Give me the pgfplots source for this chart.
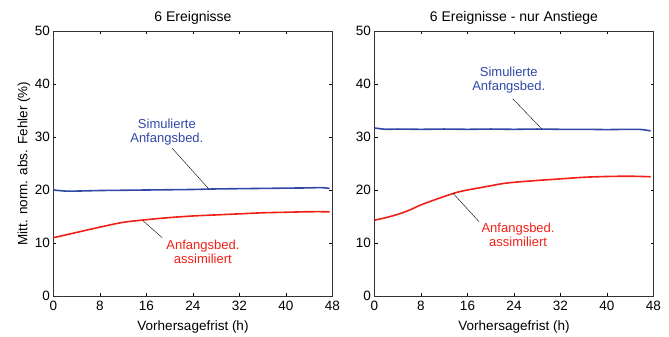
\documentclass[border=0pt]{standalone}
\usepackage{pgfplots}
\pgfplotsset{compat=1.18}
\usepackage{fontspec}
\setmainfont{Liberation Sans}
\definecolor{cblue}{RGB}{48,72,168}
\definecolor{cred}{RGB}{240,32,24}
\tikzset{ann/.style={font=\fontsize{13}{14}\selectfont, align=center, inner sep=0pt}}
\pgfplotsset{
  myax/.style={
    scale only axis, width=279pt, height=265pt,
    xmin=0, xmax=48, ymin=0, ymax=50,
    xtick={0,8,...,48}, ytick={0,10,...,50},
    tick align=inside, major tick length=3pt,
    tick style={black, line width=0.6pt},
    axis line style={line width=0.7pt, black!80},
    /pgf/number format/assume math mode=true,
    tick label style={font=\fontsize{13.5}{15}\selectfont},
    xticklabel style={yshift=-2pt},
    label style={font=\fontsize{13.5}{15}\selectfont},
    title style={font=\fontsize{14}{15}\selectfont, yshift=-3pt},
    xlabel={Vorhersagefrist (h)},
    xlabel style={yshift=-3pt},
  },
}
\begin{document}
\begin{tikzpicture}
\path[use as bounding box] (-53.5pt,-41pt) rectangle (615.5pt,296pt);
\begin{axis}[myax, at={(0pt,0pt)}, anchor=origin,
  title={6 Ereignisse},
  ylabel={Mitt. norm. abs. Fehler (\%)}, ylabel style={yshift=-2pt}]
\addplot[cblue, line width=1.6pt, smooth] coordinates {
(0,20.0) (2,19.8) (4,19.8) (8,19.9) (12,19.95) (16,20.0) (20,20.05) (24,20.1) (28,20.2) (32,20.25) (36,20.3) (40,20.35) (44,20.4) (46,20.45) (47.5,20.3)};
\addplot[cred, line width=1.6pt, smooth] coordinates {
(0,11.0) (4,12.0) (8,13.0) (12,13.9) (16,14.4) (20,14.8) (24,15.1) (28,15.3) (32,15.5) (36,15.7) (40,15.8) (44,15.9) (47.5,15.9)};
\node[ann, text=cblue] at (axis cs:19.5,31) {Simulierte\\Anfangsbed.};
\draw[black, line width=0.4pt] (axis cs:20.4,27.9) -- (axis cs:26.8,20.1);
\node[ann, text=cred] at (axis cs:25.7,8.4) {Anfangsbed.\\assimiliert};
\draw[black, line width=0.4pt] (axis cs:15.4,14.2) -- (axis cs:18.7,11.0);
\end{axis}
\begin{axis}[myax, at={(321pt,0pt)}, anchor=origin,
  title={6 Ereignisse - nur Anstiege}]
\addplot[cblue, line width=1.6pt, smooth] coordinates {
(0,31.7) (2,31.45) (4,31.5) (8,31.45) (12,31.5) (16,31.45) (20,31.5) (24,31.45) (28,31.5) (32,31.45) (36,31.45) (40,31.4) (44,31.45) (46,31.4) (47.5,31.15)};
\addplot[cred, line width=1.6pt, smooth] coordinates {
(0,14.3) (2,14.8) (4,15.4) (6,16.2) (8,17.2) (11,18.4) (14,19.5) (16,20.0) (19,20.6) (22,21.2) (24,21.45) (28,21.8) (32,22.1) (36,22.4) (40,22.55) (44,22.6) (47.5,22.5)};
\node[ann, text=cblue] at (axis cs:23.1,40.8) {Simulierte\\Anfangsbed.};
\draw[black, line width=0.4pt] (axis cs:23.8,37.2) -- (axis cs:28.8,31.5);
\node[ann, text=cred] at (axis cs:24.7,11.6) {Anfangsbed.\\assimiliert};
\draw[black, line width=0.4pt] (axis cs:13.5,19.4) -- (axis cs:18,14.0);
\end{axis}
\end{tikzpicture}
\end{document}
